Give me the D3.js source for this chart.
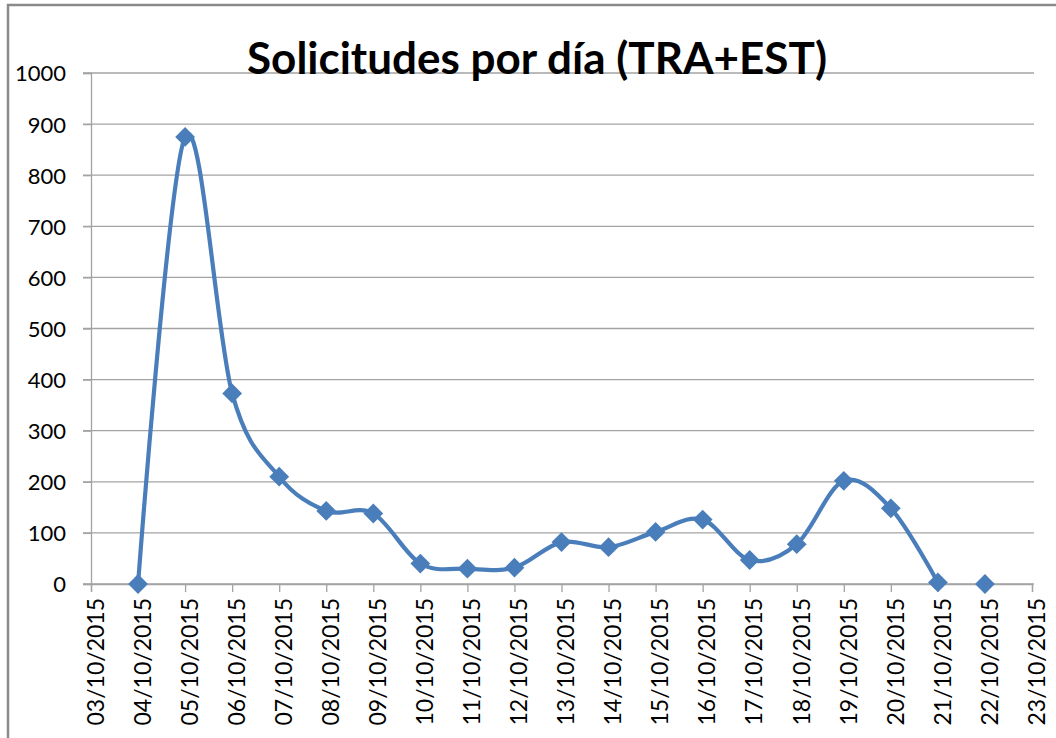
<!DOCTYPE html>
<html>
<head>
<meta charset="utf-8">
<script src="https://cdn.jsdelivr.net/npm/d3@7"></script>
<style>
  html, body { margin: 0; padding: 0; background: #fff; }
  svg { display: block; }
  text { font-family: Lato, "Open Sans", sans-serif; fill: #000; }
</style>
</head>
<body>
<svg id="chart" width="1056" height="738"></svg>
<script>
// Daily request counts (TRA+EST)
const dates = ["04/10/2015","05/10/2015","06/10/2015","07/10/2015","08/10/2015","09/10/2015",
  "10/10/2015","11/10/2015","12/10/2015","13/10/2015","14/10/2015","15/10/2015","16/10/2015",
  "17/10/2015","18/10/2015","19/10/2015","20/10/2015","21/10/2015","22/10/2015"];
const solicitudes = [0, 875, 373, 210, 143, 138, 40, 30, 32, 82, 72, 102, 126, 47, 78, 202, 148, 3, 0];
// the connecting line stops at 21/10; 22/10 is a lone point
const lineEnd = "21/10/2015";
const yTicks = [0, 100, 200, 300, 400, 500, 600, 700, 800, 900, 1000];
const xDomain = ["03/10/2015", "23/10/2015"];
const title = "Solicitudes por día (TRA+EST)";

const parse = d3.timeParse("%d/%m/%Y");
const fmt = d3.timeFormat("%d/%m/%Y");
const points = dates.map((d, i) => ({ date: parse(d), value: solicitudes[i] }));
const lineCut = parse(lineEnd);

const svg = d3.select("#chart");
const plot = { left: 91, right: 1032, top: 73, bottom: 584 };

const x = d3.scaleTime().domain(xDomain.map(parse)).range([plot.left, plot.right]);
const y = d3.scaleLinear().domain([0, 1000]).range([plot.bottom, plot.top]);

// chart frame
svg.append("rect")
  .attr("x", 8).attr("y", 5).attr("width", 1100).attr("height", 800)
  .attr("fill", "#fff").attr("stroke", "#8a8a8a").attr("stroke-width", 2.5);

// horizontal gridlines with tick stubs
svg.append("g").selectAll("line").data(yTicks).join("line")
  .attr("x1", plot.left - 8).attr("x2", plot.right + 2)
  .attr("y1", d => y(d)).attr("y2", d => y(d))
  .attr("stroke", "#a3a3a3").attr("stroke-width", 1.3);

// y axis
const yAxis = svg.append("g").attr("transform", `translate(${plot.left},0)`)
  .call(d3.axisLeft(y).tickValues(yTicks).tickFormat(d3.format("d")).tickSize(8).tickPadding(17));
yAxis.select(".domain").attr("stroke", "#a3a3a3").attr("stroke-width", 1.3);
yAxis.selectAll(".tick line").attr("stroke", "#a3a3a3").attr("stroke-width", 1.3);
yAxis.selectAll("text").attr("font-size", "22px").attr("fill", "#000")
  .style("font-family", "Lato, sans-serif").attr("dy", "0.36em");

// x axis
const xAxis = svg.append("g").attr("transform", `translate(0,${plot.bottom})`)
  .call(d3.axisBottom(x).ticks(d3.timeDay.every(1)).tickFormat(fmt).tickSize(8));
xAxis.select(".domain").attr("stroke", "#a3a3a3").attr("stroke-width", 1.3);
xAxis.selectAll(".tick line").attr("stroke", "#a3a3a3").attr("stroke-width", 1.3);
xAxis.selectAll(".tick text")
  .attr("font-size", "23px").attr("fill", "#000")
  .style("font-family", "Lato, sans-serif")
  .attr("text-anchor", "end")
  .attr("transform", "rotate(-90)")
  .attr("x", -14).attr("y", 4).attr("dy", "0.36em");

// smoothed series line
const line = d3.line()
  .x(d => x(d.date)).y(d => y(d.value))
  .curve(d3.curveCardinal.tension(0));
svg.append("path")
  .datum(points.filter(p => p.date <= lineCut))
  .attr("d", line)
  .attr("fill", "none").attr("stroke", "#4a7ebb").attr("stroke-width", 4.2)
  .attr("stroke-linejoin", "round");

// diamond markers
const diamond = d3.symbol().type(d3.symbolDiamond2).size(250);
svg.append("g").selectAll("path").data(points).join("path")
  .attr("d", diamond)
  .attr("transform", d => `translate(${x(d.date)},${y(d.value)})`)
  .attr("fill", "#4a7ebb");

// title
svg.append("text")
  .attr("x", 537).attr("y", 74)
  .attr("text-anchor", "middle")
  .attr("font-size", "44px").attr("font-weight", "bold")
  .text(title);
</script>
</body>
</html>
